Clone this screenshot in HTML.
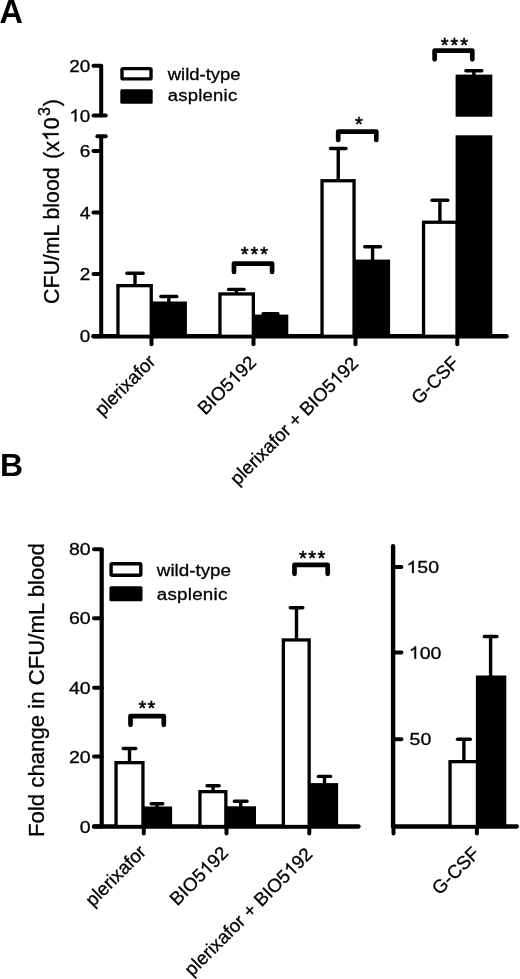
<!DOCTYPE html>
<html><head><meta charset="utf-8"><style>
html,body{margin:0;padding:0;background:#fff;}
svg{display:block;will-change:transform;}
text{font-family:"Liberation Sans",sans-serif;fill:#000;stroke:#000;stroke-width:0.3px;} .one{fill:transparent;stroke:none;} .bold{stroke:none;}
</style></head><body>
<svg width="520" height="979" viewBox="0 0 520 979">
<rect width="520" height="979" fill="#fff"/>
<text class="bold" transform="translate(-0.6,23)" font-size="32.5" text-anchor="start" font-weight="bold" >A</text>
<line x1="101.20" y1="65.80" x2="101.20" y2="115.40" stroke="#000" stroke-width="4" stroke-linecap="butt"/>
<line x1="93.50" y1="65.80" x2="101.20" y2="65.80" stroke="#000" stroke-width="4" stroke-linecap="round"/>
<line x1="93.50" y1="115.40" x2="105.70" y2="115.40" stroke="#000" stroke-width="4" stroke-linecap="round"/>
<line x1="101.20" y1="136.20" x2="101.20" y2="336.30" stroke="#000" stroke-width="4" stroke-linecap="butt"/>
<line x1="97.40" y1="136.20" x2="105.70" y2="136.20" stroke="#000" stroke-width="4" stroke-linecap="round"/>
<line x1="93.50" y1="151.00" x2="101.20" y2="151.00" stroke="#000" stroke-width="4" stroke-linecap="round"/>
<line x1="93.50" y1="212.50" x2="101.20" y2="212.50" stroke="#000" stroke-width="4" stroke-linecap="round"/>
<line x1="93.50" y1="274.10" x2="101.20" y2="274.10" stroke="#000" stroke-width="4" stroke-linecap="round"/>
<line x1="93.50" y1="336.30" x2="101.20" y2="336.30" stroke="#000" stroke-width="4" stroke-linecap="round"/>
<line x1="93.50" y1="336.30" x2="506.50" y2="336.30" stroke="#000" stroke-width="4.5" stroke-linecap="round"/>
<line x1="151.50" y1="336.30" x2="151.50" y2="344.20" stroke="#000" stroke-width="4" stroke-linecap="round"/>
<line x1="253.50" y1="336.30" x2="253.50" y2="344.20" stroke="#000" stroke-width="4" stroke-linecap="round"/>
<line x1="355.50" y1="336.30" x2="355.50" y2="344.20" stroke="#000" stroke-width="4" stroke-linecap="round"/>
<line x1="457.30" y1="336.30" x2="457.30" y2="344.20" stroke="#000" stroke-width="4" stroke-linecap="round"/>
<text transform="translate(90.4,71.9934) scale(1.095,1.0)" font-size="17.3" text-anchor="end" font-weight="normal" >20</text>
<g transform="translate(90.4,121.5934) scale(1.095,1.0)"><text font-size="17.3" text-anchor="end" ><tspan class="one">1</tspan>0</text><path transform="translate(-19.25,0.00) scale(0.00845,-0.00845)" stroke="#000" stroke-width="35.5" stroke-linejoin="round" d="M763,0 L583,0 L583,1147 Q518,1085 415,1024 Q312,963 223,930 L223,1104 Q374,1175 486.5,1276 Q599,1377 651,1472 L763,1472 Z"/></g>
<text transform="translate(90.4,157.1934) scale(1.095,1.0)" font-size="17.3" text-anchor="end" font-weight="normal" >6</text>
<text transform="translate(90.4,218.6934) scale(1.095,1.0)" font-size="17.3" text-anchor="end" font-weight="normal" >4</text>
<text transform="translate(90.4,280.2934) scale(1.095,1.0)" font-size="17.3" text-anchor="end" font-weight="normal" >2</text>
<text transform="translate(90.4,342.4934) scale(1.095,1.0)" font-size="17.3" text-anchor="end" font-weight="normal" >0</text>
<rect x="152.90" y="301.50" width="34.00" height="34.80" fill="#000"/><rect x="150.90" y="301.50" width="2.50" height="34.80" fill="#000"/>
<rect x="117.95" y="285.65" width="33.30" height="50.65" fill="#fff" stroke="#000" stroke-width="3.3"/>
<rect x="255.00" y="314.60" width="33.30" height="21.70" fill="#000"/><rect x="253.00" y="314.60" width="2.50" height="21.70" fill="#000"/>
<rect x="219.95" y="293.95" width="33.40" height="42.35" fill="#fff" stroke="#000" stroke-width="3.3"/>
<rect x="355.70" y="259.60" width="34.40" height="76.70" fill="#000"/><rect x="353.70" y="259.60" width="2.50" height="76.70" fill="#000"/>
<rect x="322.05" y="180.75" width="32.00" height="155.55" fill="#fff" stroke="#000" stroke-width="3.3"/>
<rect x="455.60" y="74.60" width="36.70" height="42.10" fill="#000"/>
<rect x="423.55" y="222.25" width="33.70" height="114.05" fill="#fff" stroke="#000" stroke-width="3.3"/>
<rect x="455.60" y="135.30" width="36.70" height="201.00" fill="#000"/>
<line x1="135.00" y1="273.30" x2="135.00" y2="285.00" stroke="#000" stroke-width="3.4" stroke-linecap="butt"/><line x1="126.90" y1="273.30" x2="143.10" y2="273.30" stroke="#000" stroke-width="3.4" stroke-linecap="round"/>
<line x1="168.85" y1="296.50" x2="168.85" y2="302.00" stroke="#000" stroke-width="3.4" stroke-linecap="butt"/><line x1="160.90" y1="296.50" x2="176.80" y2="296.50" stroke="#000" stroke-width="3.4" stroke-linecap="round"/>
<line x1="236.35" y1="289.40" x2="236.35" y2="293.00" stroke="#000" stroke-width="3.4" stroke-linecap="butt"/><line x1="228.60" y1="289.40" x2="244.10" y2="289.40" stroke="#000" stroke-width="3.4" stroke-linecap="round"/>
<line x1="270.50" y1="313.80" x2="270.50" y2="315.00" stroke="#000" stroke-width="3.4" stroke-linecap="butt"/><line x1="263.05" y1="313.80" x2="277.95" y2="313.80" stroke="#000" stroke-width="3.4" stroke-linecap="round"/>
<line x1="338.25" y1="148.50" x2="338.25" y2="180.00" stroke="#000" stroke-width="3.4" stroke-linecap="butt"/><line x1="330.50" y1="148.50" x2="346.00" y2="148.50" stroke="#000" stroke-width="3.4" stroke-linecap="round"/>
<line x1="372.60" y1="246.80" x2="372.60" y2="260.00" stroke="#000" stroke-width="3.4" stroke-linecap="butt"/><line x1="364.70" y1="246.80" x2="380.50" y2="246.80" stroke="#000" stroke-width="3.4" stroke-linecap="round"/>
<line x1="439.90" y1="200.30" x2="439.90" y2="222.00" stroke="#000" stroke-width="3.4" stroke-linecap="butt"/><line x1="432.00" y1="200.30" x2="447.80" y2="200.30" stroke="#000" stroke-width="3.4" stroke-linecap="round"/>
<line x1="473.85" y1="70.80" x2="473.85" y2="75.00" stroke="#000" stroke-width="3.4" stroke-linecap="butt"/><line x1="465.90" y1="70.80" x2="481.80" y2="70.80" stroke="#000" stroke-width="3.4" stroke-linecap="round"/>
<path d="M234.0,272.0 L234.0,263.6 L272.1,263.6 L272.1,272.0" fill="none" stroke="#000" stroke-width="4.7" stroke-linecap="round" stroke-linejoin="round"/>
<path d="M338.2,140.0 L338.2,131.7 L376.3,131.7 L376.3,140.0" fill="none" stroke="#000" stroke-width="4.7" stroke-linecap="round" stroke-linejoin="round"/>
<path d="M434.6,59.3 L434.6,50.7 L472.3,50.7 L472.3,59.3" fill="none" stroke="#000" stroke-width="4.7" stroke-linecap="round" stroke-linejoin="round"/>
<text x="240.80" y="261.10" font-size="20.0" style="stroke-width:0.55px">*</text><text x="250.55" y="261.10" font-size="20.0" style="stroke-width:0.55px">*</text><text x="260.30" y="261.10" font-size="20.0" style="stroke-width:0.55px">*</text>
<text x="354.95" y="130.60" font-size="20.0" style="stroke-width:0.55px">*</text>
<text x="440.70" y="51.60" font-size="20.0" style="stroke-width:0.55px">*</text><text x="450.50" y="51.60" font-size="20.0" style="stroke-width:0.55px">*</text><text x="460.30" y="51.60" font-size="20.0" style="stroke-width:0.55px">*</text>
<rect x="122.0" y="68.60000000000001" width="29.00" height="10.30" rx="1" fill="#fff" stroke="#000" stroke-width="3.4"/>
<rect x="120.3" y="89.3" width="32.40" height="14.40" rx="1.5" fill="#000"/>
<text transform="translate(167.8,80.4) scale(1.067,1.0)" font-size="17.3" text-anchor="start" font-weight="normal" >wild-type</text>
<text transform="translate(167.8,101.2) scale(1.067,1.0)" font-size="17.3" text-anchor="start" font-weight="normal" letter-spacing="0.22">asplenic</text>
<g transform="translate(58.6,303.9) scale(1.05,1) rotate(-90)"><text font-size="21.3" text-anchor="start" >CFU/mL blood <tspan dx="2.7">(x<tspan class="one">1</tspan>0</tspan><tspan font-size="16" dx="1.3" dy="-8.5">3</tspan><tspan dx="1.0" dy="8.5">)</tspan></text><path transform="translate(162.82,0.00) scale(0.01040,-0.01040)" stroke="#000" stroke-width="28.8" stroke-linejoin="round" d="M763,0 L583,0 L583,1147 Q518,1085 415,1024 Q312,963 223,930 L223,1104 Q374,1175 486.5,1276 Q599,1377 651,1472 L763,1472 Z"/></g>
<text transform="translate(156.75,362.7) rotate(-45)" font-size="18.7" text-anchor="end" font-weight="normal" >plerixafor</text>
<g transform="translate(257.45,363.65) rotate(-45)"><text font-size="18.7" text-anchor="end" >BIO5<tspan class="one">1</tspan>92</text><path transform="translate(-31.20,0.00) scale(0.00913,-0.00913)" stroke="#000" stroke-width="32.9" stroke-linejoin="round" d="M763,0 L583,0 L583,1147 Q518,1085 415,1024 Q312,963 223,930 L223,1104 Q374,1175 486.5,1276 Q599,1377 651,1472 L763,1472 Z"/></g>
<g transform="translate(359.35,364.55) rotate(-45)"><text font-size="18.7" text-anchor="end" >plerixafor + BIO5<tspan class="one">1</tspan>92</text><path transform="translate(-31.20,0.00) scale(0.00913,-0.00913)" stroke="#000" stroke-width="32.9" stroke-linejoin="round" d="M763,0 L583,0 L583,1147 Q518,1085 415,1024 Q312,963 223,930 L223,1104 Q374,1175 486.5,1276 Q599,1377 651,1472 L763,1472 Z"/></g>
<text transform="translate(460.2,364.2) rotate(-45)" font-size="18.7" text-anchor="end" font-weight="normal" >G-CSF</text>
<text class="bold" transform="translate(0,476.2)" font-size="32" text-anchor="start" font-weight="bold" >B</text>
<line x1="101.70" y1="549.20" x2="101.70" y2="826.50" stroke="#000" stroke-width="4.2" stroke-linecap="butt"/>
<line x1="94.00" y1="549.20" x2="101.70" y2="549.20" stroke="#000" stroke-width="4" stroke-linecap="round"/>
<line x1="94.00" y1="618.20" x2="101.70" y2="618.20" stroke="#000" stroke-width="4" stroke-linecap="round"/>
<line x1="94.00" y1="687.70" x2="101.70" y2="687.70" stroke="#000" stroke-width="4" stroke-linecap="round"/>
<line x1="94.00" y1="756.60" x2="101.70" y2="756.60" stroke="#000" stroke-width="4" stroke-linecap="round"/>
<line x1="94.00" y1="826.50" x2="101.70" y2="826.50" stroke="#000" stroke-width="4" stroke-linecap="round"/>
<line x1="94.00" y1="826.50" x2="358.50" y2="826.50" stroke="#000" stroke-width="4.3" stroke-linecap="round"/>
<line x1="143.80" y1="826.50" x2="143.80" y2="833.40" stroke="#000" stroke-width="4" stroke-linecap="round"/>
<line x1="226.50" y1="826.50" x2="226.50" y2="833.40" stroke="#000" stroke-width="4" stroke-linecap="round"/>
<line x1="309.30" y1="826.50" x2="309.30" y2="833.40" stroke="#000" stroke-width="4" stroke-linecap="round"/>
<text transform="translate(90.7,555.3934) scale(1.13,1.0)" font-size="17.3" text-anchor="end" font-weight="normal" >80</text>
<text transform="translate(90.7,624.3934) scale(1.13,1.0)" font-size="17.3" text-anchor="end" font-weight="normal" >60</text>
<text transform="translate(90.7,693.8934) scale(1.13,1.0)" font-size="17.3" text-anchor="end" font-weight="normal" >40</text>
<text transform="translate(90.7,762.7934) scale(1.13,1.0)" font-size="17.3" text-anchor="end" font-weight="normal" >20</text>
<text transform="translate(90.7,832.6934) scale(1.13,1.0)" font-size="17.3" text-anchor="end" font-weight="normal" >0</text>
<rect x="144.60" y="806.50" width="27.50" height="20.00" fill="#000"/><rect x="142.60" y="806.50" width="2.50" height="20.00" fill="#000"/>
<rect x="116.05" y="762.65" width="26.90" height="63.85" fill="#fff" stroke="#000" stroke-width="3.3"/>
<rect x="227.50" y="806.30" width="28.50" height="20.20" fill="#000"/><rect x="225.50" y="806.30" width="2.50" height="20.20" fill="#000"/>
<rect x="199.95" y="791.65" width="25.90" height="34.85" fill="#fff" stroke="#000" stroke-width="3.3"/>
<rect x="310.80" y="783.10" width="27.30" height="43.40" fill="#000"/><rect x="308.80" y="783.10" width="2.50" height="43.40" fill="#000"/>
<rect x="283.35" y="639.95" width="25.80" height="186.55" fill="#fff" stroke="#000" stroke-width="3.3"/>
<line x1="129.50" y1="748.50" x2="129.50" y2="762.00" stroke="#000" stroke-width="3.4" stroke-linecap="butt"/><line x1="123.20" y1="748.50" x2="135.80" y2="748.50" stroke="#000" stroke-width="3.4" stroke-linecap="round"/>
<line x1="157.00" y1="803.70" x2="157.00" y2="807.00" stroke="#000" stroke-width="3.4" stroke-linecap="butt"/><line x1="151.20" y1="803.70" x2="162.80" y2="803.70" stroke="#000" stroke-width="3.4" stroke-linecap="round"/>
<line x1="213.10" y1="785.80" x2="213.10" y2="791.00" stroke="#000" stroke-width="3.4" stroke-linecap="butt"/><line x1="207.05" y1="785.80" x2="219.15" y2="785.80" stroke="#000" stroke-width="3.4" stroke-linecap="round"/>
<line x1="240.70" y1="801.20" x2="240.70" y2="807.00" stroke="#000" stroke-width="3.4" stroke-linecap="butt"/><line x1="234.40" y1="801.20" x2="247.00" y2="801.20" stroke="#000" stroke-width="3.4" stroke-linecap="round"/>
<line x1="296.50" y1="607.70" x2="296.50" y2="640.00" stroke="#000" stroke-width="3.4" stroke-linecap="butt"/><line x1="290.20" y1="607.70" x2="302.80" y2="607.70" stroke="#000" stroke-width="3.4" stroke-linecap="round"/>
<line x1="324.50" y1="776.40" x2="324.50" y2="784.00" stroke="#000" stroke-width="3.4" stroke-linecap="butt"/><line x1="318.35" y1="776.40" x2="330.65" y2="776.40" stroke="#000" stroke-width="3.4" stroke-linecap="round"/>
<path d="M130.5,724.8 L130.5,716.2 L163.8,716.2 L163.8,724.8" fill="none" stroke="#000" stroke-width="4.7" stroke-linecap="round" stroke-linejoin="round"/>
<path d="M294.5,573.85 L294.5,564.85 L327.7,564.85 L327.7,573.85" fill="none" stroke="#000" stroke-width="4.7" stroke-linecap="round" stroke-linejoin="round"/>
<text x="138.60" y="715.35" font-size="20.0" style="stroke-width:0.55px">*</text><text x="147.60" y="715.35" font-size="20.0" style="stroke-width:0.55px">*</text>
<text x="299.10" y="564.75" font-size="20.0" style="stroke-width:0.55px">*</text><text x="308.25" y="564.75" font-size="20.0" style="stroke-width:0.55px">*</text><text x="317.40" y="564.75" font-size="20.0" style="stroke-width:0.55px">*</text>
<rect x="111.10000000000001" y="563.8000000000001" width="29.70" height="11.40" rx="1" fill="#fff" stroke="#000" stroke-width="3.4"/>
<rect x="109.4" y="586.3" width="33.10" height="14.90" rx="1.5" fill="#000"/>
<text transform="translate(156.8,576.3) scale(1.088,1.0)" font-size="17.3" text-anchor="start" font-weight="normal" >wild-type</text>
<text transform="translate(156.8,600.3) scale(1.088,1.0)" font-size="17.3" text-anchor="start" font-weight="normal" letter-spacing="0.2">asplenic</text>
<text transform="translate(43.8,837.0) rotate(-90)" font-size="22.2" text-anchor="start" font-weight="normal" >Fold change in CFU/mL blood</text>
<line x1="393.10" y1="546.30" x2="393.10" y2="826.50" stroke="#000" stroke-width="4.4" stroke-linecap="round"/>
<line x1="393.10" y1="566.90" x2="401.40" y2="566.90" stroke="#000" stroke-width="4" stroke-linecap="round"/>
<g transform="translate(406.5,573.0934) scale(1.13,1.0)"><text font-size="17.3" text-anchor="start" ><tspan class="one">1</tspan>50</text><path transform="translate(0.00,0.00) scale(0.00845,-0.00845)" stroke="#000" stroke-width="35.5" stroke-linejoin="round" d="M763,0 L583,0 L583,1147 Q518,1085 415,1024 Q312,963 223,930 L223,1104 Q374,1175 486.5,1276 Q599,1377 651,1472 L763,1472 Z"/></g>
<line x1="393.10" y1="652.60" x2="401.40" y2="652.60" stroke="#000" stroke-width="4" stroke-linecap="round"/>
<g transform="translate(408.8,658.7934) scale(1.13,1.0)"><text font-size="17.3" text-anchor="start" ><tspan class="one">1</tspan>00</text><path transform="translate(0.00,0.00) scale(0.00845,-0.00845)" stroke="#000" stroke-width="35.5" stroke-linejoin="round" d="M763,0 L583,0 L583,1147 Q518,1085 415,1024 Q312,963 223,930 L223,1104 Q374,1175 486.5,1276 Q599,1377 651,1472 L763,1472 Z"/></g>
<line x1="393.10" y1="739.20" x2="401.40" y2="739.20" stroke="#000" stroke-width="4" stroke-linecap="round"/>
<text transform="translate(409.6,745.3934) scale(1.13,1.0)" font-size="17.3" text-anchor="start" font-weight="normal" >50</text>
<line x1="393.10" y1="826.50" x2="516.80" y2="826.50" stroke="#000" stroke-width="4.3" stroke-linecap="round"/>
<line x1="393.50" y1="826.50" x2="393.50" y2="833.40" stroke="#000" stroke-width="4" stroke-linecap="round"/>
<line x1="476.90" y1="826.50" x2="476.90" y2="833.40" stroke="#000" stroke-width="4" stroke-linecap="round"/>
<rect x="450.05" y="761.65" width="27.50" height="64.85" fill="#fff" stroke="#000" stroke-width="3.3"/>
<rect x="475.90" y="675.50" width="30.40" height="151.00" fill="#000"/>
<line x1="463.90" y1="739.20" x2="463.90" y2="762.00" stroke="#000" stroke-width="3.4" stroke-linecap="butt"/><line x1="457.50" y1="739.20" x2="470.30" y2="739.20" stroke="#000" stroke-width="3.4" stroke-linecap="round"/>
<line x1="490.60" y1="636.50" x2="490.60" y2="676.00" stroke="#000" stroke-width="3.4" stroke-linecap="butt"/><line x1="484.30" y1="636.50" x2="496.90" y2="636.50" stroke="#000" stroke-width="3.4" stroke-linecap="round"/>
<text transform="translate(147.25,853.1) rotate(-45)" font-size="18.7" text-anchor="end" font-weight="normal" >plerixafor</text>
<g transform="translate(229.35,854.2) rotate(-45)"><text font-size="18.7" text-anchor="end" >BIO5<tspan class="one">1</tspan>92</text><path transform="translate(-31.20,0.00) scale(0.00913,-0.00913)" stroke="#000" stroke-width="32.9" stroke-linejoin="round" d="M763,0 L583,0 L583,1147 Q518,1085 415,1024 Q312,963 223,930 L223,1104 Q374,1175 486.5,1276 Q599,1377 651,1472 L763,1472 Z"/></g>
<g transform="translate(313.7,855.3) rotate(-45)"><text font-size="18.7" text-anchor="end" >plerixafor + BIO5<tspan class="one">1</tspan>92</text><path transform="translate(-31.20,0.00) scale(0.00913,-0.00913)" stroke="#000" stroke-width="32.9" stroke-linejoin="round" d="M763,0 L583,0 L583,1147 Q518,1085 415,1024 Q312,963 223,930 L223,1104 Q374,1175 486.5,1276 Q599,1377 651,1472 L763,1472 Z"/></g>
<text transform="translate(480.65,854.65) rotate(-45)" font-size="18.7" text-anchor="end" font-weight="normal" >G-CSF</text>
</svg>
</body></html>
